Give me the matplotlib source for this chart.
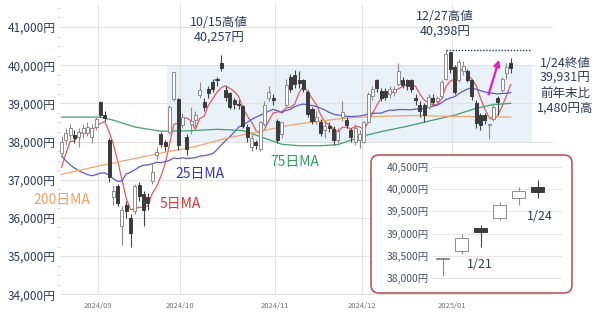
import matplotlib
matplotlib.use('Agg')
import matplotlib.pyplot as plt
import numpy as np
import pandas as pd
from matplotlib.patches import Rectangle, FancyBboxPatch
from matplotlib.ticker import MultipleLocator

plt.rcParams['font.family'] = ['Noto Sans CJK JP', 'DejaVu Sans']

# month labels and index of the first trading day of each month
month_labels = ['2024/09', '2024/10', '2024/11', '2024/12', '2025/01']
month_first_idx = [9, 28, 50, 70, 91]

# closes before the first candle (for the moving averages)
pre_close = [41275, 41098, 40126, 40064, 39599, 39594, 39155, 37870, 37667, 38469,
             38526, 39102, 38126, 35910, 31458, 34675, 35090, 34831, 35025, 36233,
             36442, 36727, 38063, 37389]

# daily candles 2024/08/20 - 2025/01/24
opens = [37700, 38040, 38170, 38170, 38120, 38220, 38230, 38120, 38380, 39030,
         38690, 38050, 36550, 36830, 35780, 36350, 36000, 36180, 36870, 36620,
         36550, 36960, 37650, 38200, 37980, 38250, 39120, 39120, 38430, 38120,
         38450, 38560, 39210, 39030, 39380, 39560, 39650, 40050, 39340, 39260,
         39100, 38980, 38920, 38380, 37850, 37980, 37800, 38450, 39150, 39150,
         38550, 38200, 38950, 39700, 39750, 39600, 39600, 39300, 38850, 38550,
         38520, 38300, 38420, 38320, 38050, 38650, 38560, 38300, 38000, 38050,
         38000, 38520, 39200, 39600, 39330, 39330, 39250, 39300, 39500, 39600,
         39600, 39600, 39150, 38950, 38950, 38900, 39150, 39050, 39200, 39650,
         40340, 39950, 39600, 39850, 39850, 39600, 39000, 38700, 38700, 38440,
         38600, 39130, 39350, 39800, 40050]
highs = [38150, 38350, 38450, 38300, 38350, 38450, 38500, 38450, 38650, 39050,
         38800, 38100, 36850, 36900, 36300, 36450, 36100, 36900, 36950, 36700,
         36650, 37450, 37850, 38250, 38050, 38950, 39830, 39150, 38750, 38200,
         38900, 38800, 39550, 39150, 39450, 39650, 39700, 40257, 39450, 39300,
         39150, 39100, 38950, 38450, 38200, 38050, 38550, 39050, 39450, 39250,
         38600, 38550, 39650, 39780, 39880, 39860, 39650, 39350, 38900, 38800,
         38600, 38500, 38500, 38400, 38350, 39050, 38650, 38350, 38450, 38300,
         38550, 39300, 39450, 39650, 39400, 39400, 39450, 39450, 40050, 39700,
         39650, 39650, 39250, 39050, 39000, 39250, 39250, 39200, 39600, 40398,
         40350, 40000, 40150, 40100, 39900, 39650, 39100, 38750, 38750, 38470,
         39000, 39200, 39700, 40050, 40200]
lows = [37600, 37900, 38050, 37950, 37860, 38100, 38150, 37950, 38300, 38650,
        38550, 36950, 36350, 36300, 35300, 36000, 35250, 36100, 36450, 35800,
        36200, 36900, 37550, 37850, 37750, 38200, 39050, 37770, 38350, 37650,
        38200, 38400, 39150, 38800, 39150, 39300, 39450, 39850, 39050, 38850,
        38850, 38850, 38350, 38000, 37750, 37800, 37750, 38400, 39050, 38950,
        37950, 38100, 38900, 39300, 39400, 39400, 39300, 38650, 38450, 38450,
        38150, 38100, 38250, 37900, 37950, 38550, 38350, 38000, 37900, 37830,
        37950, 38500, 39100, 39300, 39050, 39100, 39150, 39200, 39450, 39400,
        39350, 39300, 38950, 38650, 38500, 38850, 38950, 38950, 39150, 39600,
        39800, 39250, 39550, 39750, 39550, 39100, 38350, 38300, 38450, 38055,
        38550, 38700, 39300, 39650, 39800]
closes = [38000, 38220, 38350, 38100, 38250, 38350, 38380, 38350, 38600, 38690,
          38620, 37060, 36700, 36400, 36200, 36180, 35600, 36830, 36580, 36200,
          36380, 37200, 37720, 37930, 37880, 38900, 39810, 37920, 38650, 37800,
          38550, 38690, 39340, 38900, 39260, 39380, 39600, 39920, 39160, 38900,
          38990, 38950, 38400, 38120, 38100, 37900, 38500, 38950, 39300, 39080,
          38050, 38500, 39480, 39380, 39500, 39530, 39380, 38720, 38540, 38650,
          38220, 38414, 38350, 38030, 38280, 38780, 38440, 38130, 38350, 38210,
          38510, 39250, 39380, 39395, 39150, 39160, 39370, 39372, 39850, 39470,
          39457, 39364, 39081, 38813, 38701, 39161, 39036, 39130, 39568, 40281,
          39894, 39307, 40083, 39981, 39605, 39190, 38474, 38444, 38572, 38451,
          38902, 39027, 39646, 39958, 39931]

# 75 / 200 day averages
ma75_idx = [0, 9, 12, 17, 23, 29, 36, 42, 47, 51, 55, 60, 64, 70, 74, 80, 86, 91, 96, 100, 104]
ma75_val = [38640, 38640, 38560, 38380, 38270, 38280, 38320, 38290, 38090, 37930, 37890,
            37890, 37920, 38150, 38260, 38400, 38560, 38690, 38870, 38970, 39000]
ma200_idx = [0, 9, 18, 24, 31, 38, 43, 53, 58, 66, 74, 81, 90, 104]
ma200_val = [37140, 37370, 37580, 37720, 37870, 38080, 38200, 38430, 38510, 38620,
             38660, 38680, 38660, 38640]

x = np.arange(len(closes))
all_close = pd.Series(pre_close + closes)
ma5 = all_close.rolling(5).mean().values[len(pre_close):]
ma25 = all_close.rolling(25).mean().values[len(pre_close):]


def draw_candles(ax, xs, o, h, l, c, width, min_h):
    o = np.asarray(o, float)
    c = np.asarray(c, float)
    up = c >= o
    bottom = np.minimum(o, c)
    height = np.maximum(np.abs(c - o), min_h)
    ax.vlines(xs[up], np.asarray(l)[up], np.asarray(h)[up], colors='#8c8c8c', lw=0.8, zorder=3)
    ax.vlines(xs[~up], np.asarray(l)[~up], np.asarray(h)[~up], colors='#444444', lw=0.8, zorder=3)
    ax.bar(xs[up], height[up], width, bottom=bottom[up], facecolor='white',
           edgecolor='#8c8c8c', lw=0.7, zorder=4)
    ax.bar(xs[~up], height[~up], width, bottom=bottom[~up], facecolor='#3b3b3b',
           edgecolor='#3b3b3b', lw=0.7, zorder=4)


fig = plt.figure(figsize=(6, 3.14), dpi=100)
ax = fig.add_axes([60 / 600, 1 - 295 / 314, 493 / 600, 290 / 314])

# range box
ax.add_patch(Rectangle((24.4, 38000), 108.9 - 24.4, 2000, facecolor='#e9f1f9',
                       edgecolor='none', zorder=0.5))

ax.plot(x, ma5, color='#e85a5a', lw=0.9, zorder=2)
ax.plot(x, ma25, color='#5a5ad8', lw=0.9, zorder=2)
ax.plot(ma75_idx, ma75_val, color='#3fa36a', lw=0.9, zorder=2)
ax.plot(ma200_idx, ma200_val, color='#f2a56a', lw=0.9, zorder=2)

draw_candles(ax, x, opens, highs, lows, closes, 0.7, 20)

ax.set_xlim(-0.35, 113.8)
ax.set_ylim(33980, 41577)
ax.set_yticks(range(34000, 41001, 1000))
ax.set_yticklabels([f'{v:,}円' for v in range(34000, 41001, 1000)])
ax.yaxis.set_minor_locator(MultipleLocator(250))
ax.set_xticks([i - 0.5 for i in month_first_idx])
ax.set_xticklabels(month_labels)
ax.tick_params(axis='y', length=0, pad=3, labelsize=8.5, labelcolor='#2d3a55')
ax.tick_params(axis='y', which='minor', length=2.5, color='#cccccc')
ax.tick_params(axis='x', length=0, pad=5, labelsize=5.5, labelcolor='#777777')
ax.grid(True, color='#e2e2e2', lw=0.8)
ax.set_axisbelow(True)
for s in ax.spines.values():
    s.set_visible(False)

# line labels
ax.text(0.1, 36465, '200日MA', color='#f0a060', fontsize=10, ha='center', va='center')
ax.text(32.1, 37146, '25日MA', color='#3535c8', fontsize=10, ha='center', va='center')
ax.text(27.4, 36360, '5日MA', color='#e03535', fontsize=10, ha='center', va='center')
ax.text(54.1, 37461, '75日MA', color='#2f9f5a', fontsize=10, ha='center', va='center')

# notes
ax.text(36.5, 40922, '10/15高値\n40,257円', color='#2d3a55', fontsize=9,
        ha='center', va='center', linespacing=1.25)
ax.text(88.8, 41079, '12/27高値\n40,398円', color='#2d3a55', fontsize=9,
        ha='center', va='center', linespacing=1.25)
ax.plot([89, 108.5], [highs[89], highs[89]], color='#2d3a55', lw=1, ls=(0, (1, 1.2)), zorder=5)
ax.text(116.6, 39465, '1/24終値\n39,931円\n前年末比\n1,480円高', color='#2d3a55', fontsize=9,
        ha='center', va='center', linespacing=1.2, zorder=6,
        bbox=dict(facecolor='white', edgecolor='none', pad=1))
ax.annotate('', xy=(101.5, 40214), xytext=(98.7, 39165),
            arrowprops=dict(arrowstyle='-|>', color='#e81cc8', lw=1.6, mutation_scale=9),
            zorder=6)

# inset with the last six days
box = FancyBboxPatch((3.71, 0.21), 2.01, 1.38, boxstyle='round,pad=0,rounding_size=0.08',
                     transform=fig.dpi_scale_trans, facecolor='white',
                     edgecolor='#b84a4a', lw=1.1, zorder=1)
fig.add_artist(box)

n_in = 6
axi = fig.add_axes([432 / 600, 1 - 288 / 314, 130 / 600, 128 / 314], zorder=2)
axi.set_facecolor('none')
xi = np.arange(n_in)
draw_candles(axi, xi, opens[-n_in:], highs[-n_in:], lows[-n_in:], closes[-n_in:], 0.68, 12)
axi.set_xlim(-0.56, 6.28)
axi.set_ylim(37780, 40650)
inset_ticks = list(range(38000, 40501, 500))
axi.set_yticks(inset_ticks)
axi.set_yticklabels([f'{v:,}円' for v in inset_ticks])
axi.set_xticks([])
axi.tick_params(axis='y', length=0, pad=2, labelsize=7.5, labelcolor='#4a5068')
axi.grid(True, axis='y', color='#e6e6e6', lw=0.8)
axi.set_axisbelow(True)
for s in axi.spines.values():
    s.set_visible(False)
axi.text(1.96, 38296, '1/21', color='#2d3a55', fontsize=9, ha='center', va='center')
axi.text(5.1, 39372, '1/24', color='#2d3a55', fontsize=9, ha='center', va='center')

fig.savefig('out.png', dpi=100)
